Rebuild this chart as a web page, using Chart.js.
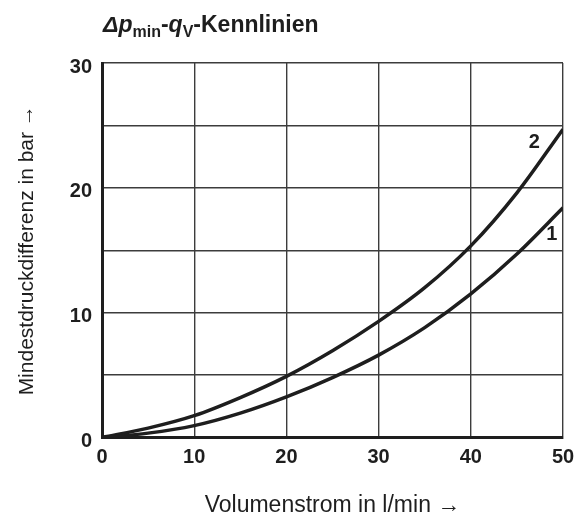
<!DOCTYPE html>
<html>
<head>
<meta charset="utf-8">
<script src="https://cdn.jsdelivr.net/npm/chart.js@4/dist/chart.umd.min.js"></script>
<style>
html,body{margin:0;padding:0;background:#fff;}
#wrap{width:575px;height:517px;}
</style>
</head>
<body>
<div id="wrap"><canvas id="c" width="575" height="517"></canvas></div>
<script>
// ---- data ----
const flowRate = [0, 5, 10, 15, 20, 25, 30, 35, 40, 45, 50];                    // l/min
const curve1 = [0, 0.35, 0.95, 1.95, 3.25, 4.8, 6.6, 8.8, 11.5, 14.7, 18.4];   // bar
const curve2 = [0, 0.75, 1.75, 3.2, 4.9, 6.95, 9.3, 12.0, 15.35, 19.6, 24.7];  // bar
const xTicks = [0, 10, 20, 30, 40, 50];
const yTicks = [0, 10, 20, 30];
const curveNames = ['1', '2'];
const curveLabelAt = [[48.8, 16.3], [46.9, 23.6]]; // data coords of the "1"/"2" tags
const xTitle = 'Volumenstrom in l/min \u2192';
const yTitle = 'Mindestdruckdifferenz in bar \u2192';

const FONT = "'Liberation Sans', Arial, Helvetica, sans-serif";
const INK = '#1e1e1e';
const GRID = '#3c3c3c';

const titlePlugin = {
  id: 'mixedTitle',
  afterDraw(chart) {
    const ctx = chart.ctx;
    const parts = [
      {t: '\u0394p', style: 'italic bold', size: 23, dy: 0},
      {t: 'min', style: 'bold', size: 16, dy: 5},
      {t: '-', style: 'bold', size: 23, dy: 0},
      {t: 'q', style: 'italic bold', size: 23, dy: 0},
      {t: 'V', style: 'bold', size: 16, dy: 5},
      {t: '-Kennlinien', style: 'bold', size: 23, dy: 0}
    ];
    let x = 103; const base = 32;
    ctx.save();
    ctx.fillStyle = INK;
    ctx.textBaseline = 'alphabetic';
    ctx.textAlign = 'left';
    for (const p of parts) {
      ctx.font = p.style + ' ' + p.size + 'px ' + FONT;
      ctx.fillText(p.t, x, base + p.dy);
      x += ctx.measureText(p.t).width;
    }
    ctx.restore();
  }
};

const tagPlugin = {
  id: 'curveTags',
  afterDatasetsDraw(chart) {
    const ctx = chart.ctx;
    const xs = chart.scales.x, ys = chart.scales.y;
    ctx.save();
    ctx.fillStyle = INK;
    ctx.font = 'bold 20px ' + FONT;
    ctx.textAlign = 'center';
    ctx.textBaseline = 'middle';
    curveNames.forEach((n, i) => {
      ctx.fillText(n, xs.getPixelForValue(curveLabelAt[i][0]), ys.getPixelForValue(curveLabelAt[i][1]));
    });
    ctx.restore();
  }
};

const mk = (arr) => flowRate.map((x, i) => ({x, y: arr[i]}));

new Chart(document.getElementById('c'), {
  type: 'line',
  data: {
    datasets: [
      {label: curveNames[0], data: mk(curve1)},
      {label: curveNames[1], data: mk(curve2)}
    ]
  },
  plugins: [titlePlugin, tagPlugin],
  options: {
    responsive: false,
    animation: false,
    devicePixelRatio: 1,
    layout: {padding: {top: 63, right: 0, left: 0, bottom: 0}},
    elements: {
      point: {radius: 0},
      line: {borderColor: INK, borderWidth: 3.5, cubicInterpolationMode: 'monotone', fill: false}
    },
    plugins: {legend: {display: false}, tooltip: {enabled: false}, title: {display: false}},
    scales: {
      x: {
        type: 'linear', min: 0, max: 50,
        afterBuildTicks: (s) => { s.ticks = xTicks.map(v => ({value: v})); },
        afterFit: (s) => { s.height = 79.5; s.paddingLeft = 0; s.paddingRight = 12; },
        grid: {color: GRID, lineWidth: 1.4, drawTicks: false},
        border: {color: INK, width: 3},
        ticks: {color: INK, font: {family: FONT, size: 20, weight: 'bold'}, padding: 8, maxRotation: 0},
        title: {display: true, text: xTitle, color: INK, font: {family: FONT, size: 23, lineHeight: 1}, padding: {top: 0, bottom: 0}}
      },
      y: {
        type: 'linear', min: 0, max: 30,
        afterBuildTicks: (s) => { const t = []; for (let v = 0; v <= 30; v += 5) t.push({value: v}); s.ticks = t; },
        afterFit: (s) => { s.width = 102; },
        grid: {color: GRID, lineWidth: 1.4, drawTicks: false},
        border: {color: INK, width: 3},
        ticks: {color: INK, font: {family: FONT, size: 20, weight: 'bold'}, padding: 10, labelOffset: 4,
          callback: (v) => yTicks.includes(v) ? String(v) : ''},
        title: {display: true, text: yTitle, color: INK, font: {family: FONT, size: 21, lineHeight: 1}, padding: {top: 17, bottom: 0}}
      }
    }
  }
});
</script>
</body>
</html>
